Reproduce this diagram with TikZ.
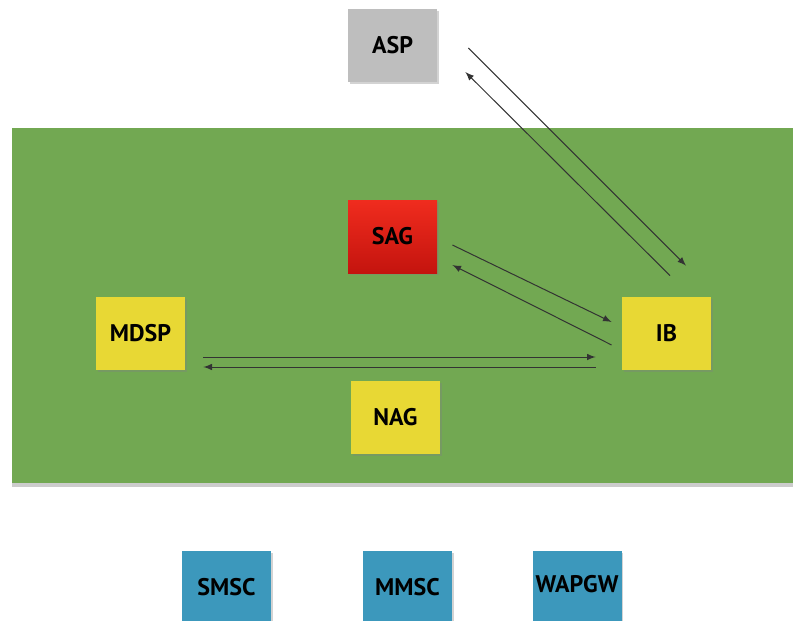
\documentclass[tikz,border=0pt]{standalone}
\usepackage{fontspec}
\setmainfont{PT Sans}
\usetikzlibrary{shadows}

\definecolor{fieldgreen}{RGB}{114,168,82}
\definecolor{boxyellow}{RGB}{232,216,52}
\definecolor{boxgray}{RGB}{190,190,190}
\definecolor{boxblue}{RGB}{60,152,188}
\definecolor{redtop}{RGB}{240,44,30}
\definecolor{redbot}{RGB}{196,20,14}

\begin{document}
\begin{tikzpicture}[x=0.5pt, y=-0.5pt, >=latex,
    box/.style={minimum width=44.5pt, minimum height=36.5pt, inner sep=0pt,
        font=\fontsize{12}{14}\selectfont\bfseries,
        drop shadow={opacity=0.35, shadow xshift=0.8pt, shadow yshift=-1.2pt}},
    link/.style={->, black!80, line width=0.5pt}]
    \useasboundingbox (0,0) rectangle (793,621);

    % Green field
    \fill[fieldgreen, drop shadow={opacity=0.4, shadow xshift=0pt, shadow yshift=-2pt}]
        (12,128) rectangle (820,483);

    % Nodes
    \node[box, fill=boxgray] (asp) at (392.5,45.5) {ASP};
    \node[box, top color=redtop, bottom color=redbot] (sag) at (392.5,236.5) {SAG};
    \node[box, fill=boxyellow] (mdsp) at (140.5,333.5) {MDSP};
    \node[box, fill=boxyellow] (ib) at (666.5,333.5) {IB};
    \node[box, fill=boxyellow] (nag) at (395.5,417) {NAG};

    \node[box, fill=boxblue] (smsc) at (226.5,587) {SMSC};
    \node[box, fill=boxblue] (mmsc) at (407.5,587) {MMSC};
    \node[box, fill=boxblue] (wapgw) at (577,587) {\raisebox{3pt}{WAPGW}};

    % ASP <-> IB
    \draw[link] ([shift={(31,2.5)}]asp.east) -- ([shift={(19.5,-31)}]ib.north);
    \draw[link] ([shift={(3.5,-21)}]ib.north) -- ([shift={(28,26.5)}]asp.east);

    % SAG <-> IB
    \draw[link] ([shift={(15,8.5)}]sag.east) -- ([shift={(-10,-11.5)}]ib.west);
    \draw[link] ([shift={(-10,11.5)}]ib.west) -- ([shift={(15,28.5)}]sag.east);

    % MDSP <-> IB
    \draw[link] ([shift={(18,23.5)}]mdsp.east) -- ([shift={(-26,23.5)}]ib.west);
    \draw[link] ([shift={(-26,33.5)}]ib.west) -- ([shift={(18,33.5)}]mdsp.east);

\end{tikzpicture}
\end{document}
